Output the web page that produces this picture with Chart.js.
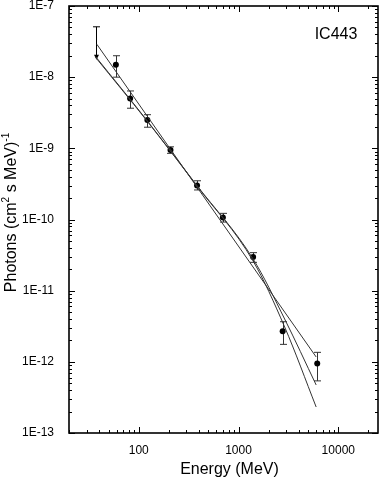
<!DOCTYPE html>
<html>
<head>
<meta charset="utf-8">
<script src="https://cdn.jsdelivr.net/npm/chart.js@4"></script>
<style>
html, body { margin: 0; padding: 0; background: #fff; }
</style>
</head>
<body>
<canvas id="chart" width="382" height="481"></canvas>
<script>
// measured points, E in MeV, flux in photons / (cm2 s MeV)
const energy = [59, 82, 122, 208, 384, 697, 1400, 2770, 6150];
const flux = [1.5e-8, 5.0e-9, 2.5e-9, 9.5e-10, 3.0e-10, 1.07e-10, 2.97e-11, 2.7e-12, 9.5e-13];
const fluxHigh = [2.0e-8, 6.4e-9, 2.97e-9, 1.05e-9, 3.5e-10, 1.22e-10, 3.42e-11, 3.66e-12, 1.36e-12];
const fluxLow = [1.0e-8, 3.66e-9, 1.98e-9, 8.5e-10, 2.6e-10, 9.2e-11, 2.5e-11, 1.76e-12, 5.4e-13];

// upper limit at lowest energy
const limitEnergy = [37];
const limitTop = [5.1e-8];
const limitArrow = [1.75e-8];

// fitted models
const fitEnergyA = [38, 6000];
const fitFluxA = [2.9e-8, 1.17e-12];
const fitEnergyB = [37, 120, 380, 1400, 2900, 6000];
const fitFluxB = [1.94e-8, 2.5e-9, 3.05e-10, 2.79e-11, 4.0e-12, 4.73e-13];
const fitFluxC = [1.89e-8, 2.46e-9, 3.0e-10, 2.61e-11, 3.09e-12, 2.32e-13];

const xTicks = [100, 1000, 10000];
const yTicks = [1e-7, 1e-8, 1e-9, 1e-10, 1e-11, 1e-12, 1e-13];
const sourceName = 'IC443';
const xTitle = 'Energy (MeV)';
// y title pieces: [text, superscript?]
const yTitle = [['Photons (cm', false], ['2', true], [' s MeV)', false], ['-1', true]];

const font = "'Liberation Sans', Arial, Helvetica, sans-serif";

function toXY(xs, ys) {
    return xs.map((x, i) => ({ x: x, y: ys[i] }));
}

function logTicks(min, max) {
    const out = [];
    for (let e = Math.floor(Math.log10(min)); e <= Math.ceil(Math.log10(max)); e++) {
        for (let m = 1; m <= 9; m++) {
            const v = m * Math.pow(10, e);
            if (v >= min * 0.999 && v <= max * 1.001) out.push({ v: v, major: m === 1 });
        }
    }
    return out;
}

const extras = {
    id: 'extras',
    beforeDatasetsDraw(chart) {
        const ctx = chart.ctx;
        const xs = chart.scales.x, ys = chart.scales.y;
        ctx.save();
        ctx.strokeStyle = '#333';
        ctx.lineWidth = 1;
        // error bars
        energy.forEach((e, i) => {
            const px = Math.round(xs.getPixelForValue(e)) + 0.5;
            const hi = ys.getPixelForValue(fluxHigh[i]);
            const lo = ys.getPixelForValue(fluxLow[i]);
            ctx.beginPath();
            ctx.moveTo(px, hi); ctx.lineTo(px, lo);
            ctx.moveTo(px - 3.5, hi); ctx.lineTo(px + 3.5, hi);
            ctx.moveTo(px - 3.5, lo); ctx.lineTo(px + 3.5, lo);
            ctx.stroke();
        });
        // upper limit arrow
        ctx.strokeStyle = '#000';
        ctx.fillStyle = '#000';
        limitEnergy.forEach((e, i) => {
            const px = Math.round(xs.getPixelForValue(e)) + 0.5;
            const top = ys.getPixelForValue(limitTop[i]);
            const tip = ys.getPixelForValue(limitArrow[i]);
            ctx.beginPath();
            ctx.moveTo(px, top); ctx.lineTo(px, tip - 4);
            ctx.moveTo(px - 3.5, top); ctx.lineTo(px + 3.5, top);
            ctx.stroke();
            ctx.beginPath();
            ctx.moveTo(px - 2.5, tip - 5);
            ctx.lineTo(px + 2.5, tip - 5);
            ctx.lineTo(px, tip);
            ctx.closePath();
            ctx.fill();
        });
        ctx.restore();
    },
    afterDraw(chart) {
        const ctx = chart.ctx;
        const a = chart.chartArea;
        const xs = chart.scales.x, ys = chart.scales.y;
        ctx.save();
        ctx.strokeStyle = '#000';
        ctx.lineWidth = 1;
        ctx.beginPath();
        logTicks(xs.min, xs.max).forEach(t => {
            const px = Math.round(xs.getPixelForValue(t.v)) + 0.5;
            const len = t.major ? 6 : 3;
            ctx.moveTo(px, a.bottom); ctx.lineTo(px, a.bottom - len);
            ctx.moveTo(px, a.top); ctx.lineTo(px, a.top + len);
        });
        logTicks(ys.min, ys.max).forEach(t => {
            const py = Math.round(ys.getPixelForValue(t.v)) + 0.5;
            const len = t.major ? 6 : 3;
            ctx.moveTo(a.left, py); ctx.lineTo(a.left + len, py);
            ctx.moveTo(a.right, py); ctx.lineTo(a.right - len, py);
        });
        ctx.stroke();
        ctx.lineWidth = 1.6;
        ctx.strokeRect(a.left, a.top, a.right - a.left, a.bottom - a.top);

        ctx.fillStyle = '#000';
        ctx.textBaseline = 'middle';
        ctx.textAlign = 'center';
        ctx.font = '16px ' + font;
        ctx.fillText(sourceName, a.right - 42, a.top + 29);

        // axis titles
        ctx.fillText(xTitle, (a.left + a.right) / 2 + 6, chart.height - 11);

        ctx.translate(12, (a.top + a.bottom) / 2 - 7);
        ctx.rotate(-Math.PI / 2);
        ctx.textAlign = 'left';
        const big = '16px ' + font, small = '10px ' + font;
        let total = 0;
        yTitle.forEach(p => { ctx.font = p[1] ? small : big; total += ctx.measureText(p[0]).width; });
        let x = -total / 2;
        yTitle.forEach(p => {
            ctx.font = p[1] ? small : big;
            ctx.fillText(p[0], x, p[1] ? -6 : 0);
            x += ctx.measureText(p[0]).width;
        });
        ctx.restore();
    }
};

const lineStyle = {
    type: 'line', showLine: true, fill: false, pointRadius: 0,
    borderColor: '#333', borderWidth: 1, cubicInterpolationMode: 'monotone'
};

new Chart(document.getElementById('chart'), {
    type: 'scatter',
    data: {
        datasets: [
            Object.assign({ label: 'fit A', data: toXY(fitEnergyA, fitFluxA) }, lineStyle),
            Object.assign({ label: 'fit B', data: toXY(fitEnergyB, fitFluxB) }, lineStyle),
            Object.assign({ label: 'fit C', data: toXY(fitEnergyB, fitFluxC) }, lineStyle),
            {
                label: sourceName,
                data: toXY(energy, flux),
                pointRadius: 3,
                pointBackgroundColor: '#000',
                pointBorderWidth: 0,
                showLine: false
            }
        ]
    },
    options: {
        responsive: false,
        animation: false,
        devicePixelRatio: 1,
        layout: { padding: { top: 6, right: 2, left: 0, bottom: 0 } },
        plugins: { legend: { display: false }, tooltip: { enabled: false } },
        scales: {
            x: {
                type: 'logarithmic',
                min: 20,
                max: 25000,
                grid: { display: false },
                border: { display: false },
                afterBuildTicks: s => { s.ticks = xTicks.map(v => ({ value: v })); },
                afterFit: s => { s.height = 48; s.paddingLeft = 0; s.paddingRight = 0; },
                ticks: {
                    autoSkip: false, maxRotation: 0, padding: 2, color: '#000',
                    font: { family: font, size: 12 },
                    callback: v => String(v)
                }
            },
            y: {
                type: 'logarithmic',
                min: 1e-13,
                max: 1e-7,
                grid: { display: false },
                border: { display: false },
                afterBuildTicks: s => { s.ticks = yTicks.map(v => ({ value: v })); },
                afterFit: s => { s.width = 69; s.paddingTop = 0; s.paddingBottom = 0; },
                ticks: {
                    autoSkip: false, padding: 7, color: '#000',
                    font: { family: font, size: 12 },
                    callback: v => '1E' + Math.round(Math.log10(v))
                }
            }
        }
    },
    plugins: [extras]
});
</script>
</body>
</html>
